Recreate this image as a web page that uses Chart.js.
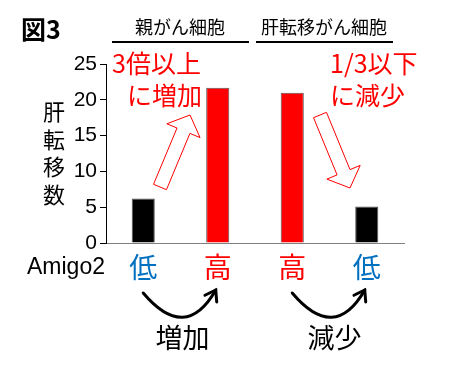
<!DOCTYPE html>
<html>
<head>
<meta charset="utf-8">
<script src="https://cdn.jsdelivr.net/npm/chart.js@4.4.1/dist/chart.umd.min.js"></script>
<style>
  html, body { margin: 0; padding: 0; background: #fff; }
  #wrap { width: 471px; height: 371px; }
</style>
</head>
<body>
<div id="wrap"><canvas id="BarChart" width="471" height="371"></canvas></div>
<script>
// data
var categories = ['低', '高', '高', '低'];
var metastases = [6.2, 21.7, 21.0, 5.1];
var barColors = ['#000000', '#ff0000', '#ff0000', '#000000'];
var labelColors = ['#0070c0', '#ff0000', '#ff0000', '#0070c0'];
var yTicks = [0, 5, 10, 15, 20, 25];
var groups = ['親がん細胞', '肝転移がん細胞'];

var JP = '"Noto Sans CJK JP", sans-serif';
var LAT = '"Liberation Sans", Arial, sans-serif';

function hollowArrow(ctx, x0, y0, x1, y1, shaftW, headW, headL) {
    var dx = x1 - x0, dy = y1 - y0;
    var len = Math.sqrt(dx * dx + dy * dy);
    var ux = dx / len, uy = dy / len;
    var nx = -uy, ny = ux;
    var bx = x1 - ux * headL, by = y1 - uy * headL;
    var s = shaftW / 2, h = headW / 2;
    ctx.beginPath();
    ctx.moveTo(x0 + nx * s, y0 + ny * s);
    ctx.lineTo(bx + nx * s, by + ny * s);
    ctx.lineTo(bx + nx * h, by + ny * h);
    ctx.lineTo(x1, y1);
    ctx.lineTo(bx - nx * h, by - ny * h);
    ctx.lineTo(bx - nx * s, by - ny * s);
    ctx.lineTo(x0 - nx * s, y0 - ny * s);
    ctx.closePath();
    ctx.fillStyle = '#fff';
    ctx.fill();
    ctx.strokeStyle = '#ff0000';
    ctx.lineWidth = 1;
    ctx.stroke();
}

function curvedArrow(ctx, x0, y0, cx, cy, x1, y1) {
    ctx.strokeStyle = '#000';
    ctx.lineWidth = 3;
    ctx.lineCap = 'round';
    ctx.beginPath();
    ctx.moveTo(x0, y0);
    ctx.quadraticCurveTo(cx, cy, x1, y1);
    ctx.stroke();
    var a = Math.atan2(y1 - cy, x1 - cx);
    var L = 12, spread = 0.6;
    ctx.beginPath();
    ctx.moveTo(x1 - L * Math.cos(a - spread), y1 - L * Math.sin(a - spread));
    ctx.lineTo(x1, y1);
    ctx.lineTo(x1 - L * Math.cos(a + spread), y1 - L * Math.sin(a + spread));
    ctx.stroke();
}

var extras = {
    id: 'extras',
    afterDraw: function(chart) {
        var ctx = chart.ctx;
        var x = chart.scales.x;
        ctx.save();

        // figure number
        ctx.fillStyle = '#000';
        ctx.textBaseline = 'middle';
        ctx.textAlign = 'left';
        ctx.font = 'bold 25px ' + JP;
        ctx.fillText('図3', 21, 29);

        // group headers with underline
        ctx.font = '18px ' + JP;
        ctx.textAlign = 'center';
        ctx.fillText(groups[0], 180, 27);
        ctx.fillText(groups[1], 324, 27);
        ctx.lineWidth = 2;
        ctx.strokeStyle = '#000';
        ctx.beginPath();
        ctx.moveTo(112, 42); ctx.lineTo(249, 42);
        ctx.moveTo(256, 42); ctx.lineTo(393, 42);
        ctx.stroke();

        // y title, stacked
        ctx.font = '22px ' + JP;
        var title = '肝転移数';
        for (var i = 0; i < title.length; i++) {
            ctx.fillText(title[i], 54, 112 + i * 27.5);
        }

        // x row title
        ctx.font = '23px ' + LAT;
        ctx.textAlign = 'left';
        ctx.fillText('Amigo2', 27, 268);

        // red notes
        ctx.fillStyle = '#ff0000';
        ctx.font = '25px ' + JP;
        ctx.textAlign = 'right';
        ctx.fillText('3倍以上', 201, 63);
        ctx.fillText('に増加', 202, 95);
        ctx.textAlign = 'left';
        ctx.fillText('1/3以下', 330, 63);
        ctx.fillText('に減少', 330, 95);

        hollowArrow(ctx, 160, 187, 190, 115, 14, 36, 17);
        hollowArrow(ctx, 320, 115, 350, 188, 14, 36, 17);

        // bottom curved arrows between categories
        var p0 = x.getPixelForValue(0), p1 = x.getPixelForValue(1);
        var p2 = x.getPixelForValue(2), p3 = x.getPixelForValue(3);
        curvedArrow(ctx, p0, 293, (p0 + p1) / 2 + 5, 343, p1 - 2, 290);
        curvedArrow(ctx, p2, 293, (p2 + p3) / 2 + 5, 343, p3 - 2, 290);

        ctx.fillStyle = '#000';
        ctx.font = '27px ' + JP;
        ctx.textAlign = 'center';
        ctx.fillText('増加', (p0 + p1) / 2 + 2, 338);
        ctx.fillText('減少', (p2 + p3) / 2 + 5, 338);

        ctx.restore();
    }
};

var ctx = document.getElementById('BarChart').getContext('2d');
var myBarChart = new Chart(ctx, {
    type: 'bar',
    data: {
        labels: categories,
        datasets: [{
            label: '肝転移数',
            data: metastases,
            backgroundColor: barColors,
            borderColor: '#555555',
            borderWidth: 1,
            barPercentage: 0.31,
            categoryPercentage: 1
        }]
    },
    options: {
        responsive: false,
        animation: false,
        layout: { padding: { left: 0, top: 64, right: 67, bottom: 0 } },
        plugins: {
            legend: { display: false },
            tooltip: { enabled: false }
        },
        scales: {
            x: {
                grid: { display: false, drawTicks: false },
                border: { display: true, color: '#808080', width: 1 },
                ticks: {
                    padding: 8,
                    font: { family: JP, size: 28 },
                    color: function(c) { return labelColors[c.index]; }
                },
                afterFit: function(scale) { scale.height = 128; }
            },
            y: {
                min: 0,
                max: 25,
                afterBuildTicks: function(scale) {
                    scale.ticks = yTicks.map(function(v) { return { value: v }; });
                },
                grid: { drawOnChartArea: false, drawTicks: true, tickLength: 6, tickColor: '#000' },
                border: { display: true, color: '#000', width: 1 },
                ticks: {
                    padding: 3,
                    color: '#000',
                    font: { family: LAT, size: 21 }
                },
                afterFit: function(scale) { scale.width = 106; }
            }
        }
    },
    plugins: [extras]
});
</script>
</body>
</html>
